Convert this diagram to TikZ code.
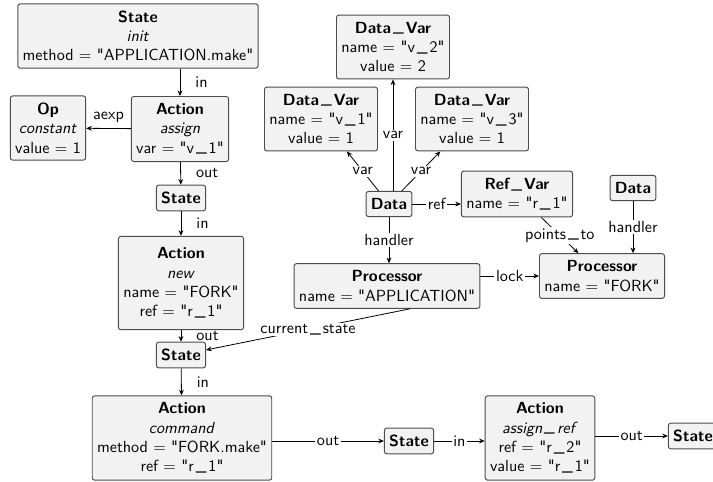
\documentclass[tikz,border=0pt]{standalone}
\usepackage{amsmath}
\usepackage{fontspec}
\setsansfont{lmsans10-regular.otf}[BoldFont=lmsans10-bold.otf,
  ItalicFont=lmsans10-oblique.otf, BoldItalicFont=lmsans10-boldoblique.otf,
  Ligatures=TeXOff]
\usepackage{tikz}
\usetikzlibrary{calc, arrows.meta}
\newcommand{\usc}{\kern0.12em\raisebox{0.18ex}{\mdseries\_}\kern0.12em}

\begin{document}
\begin{tikzpicture}
        [
          x=0.621pt, y=-0.621pt,
          font=\sffamily,
          box/.style={draw=black!70, fill=black!5, rounded corners=1.5pt,
                      line width=0.6pt, align=center, inner xsep=3pt, inner ysep=4.3pt},
          link/.style={-{Stealth[length=3.5pt,width=3pt]}, line width=0.5pt},
          side/.style={right=6pt},
          lbl/.style={fill=white, inner sep=1pt}
        ]
        \useasboundingbox (0,0) rectangle (713,481);
        % states and actions
        \node [box] (init) at (138,36) {\textbf{State}\\\textit{init}\\method = "APPLICATION.make"};
        \node [box] (assign) at (180,129) {\textbf{Action}\\\textit{assign}\\var = "v\usc1"};
        \node [box] (op) at (48,128) {\textbf{Op}\\\textit{constant}\\value = 1};
        \node [box] (st1) at (181,198) {\textbf{State}};
        \node [box, minimum height=58pt] (new) at (181,283) {\textbf{Action}\\\textit{new}\\name = "FORK"\\ref = "r\usc1"};
        \node [box] (st2) at (181,355) {\textbf{State}};
        \node [box] (cmd) at (182,438) {\textbf{Action}\\\textit{command}\\method = "FORK.make"\\ref = "r\usc1"};
        \node [box] (st3) at (409,441) {\textbf{State}};
        \node [box] (aref) at (540,438) {\textbf{Action}\\\textit{assign\usc ref}\\ref = "r\usc2"\\value = "r\usc1"};
        \node [box] (st4) at (693,436) {\textbf{State}};
        % data
        \node [box] (v2) at (393,47) {\textbf{Data\usc Var}\\name = "v\usc2"\\value = 2};
        \node [box] (v1) at (321,119) {\textbf{Data\usc Var}\\name = "v\usc1"\\value = 1};
        \node [box] (v3) at (472,119) {\textbf{Data\usc Var}\\name = "v\usc3"\\value = 1};
        \node [box] (d1) at (389,204) {\textbf{Data}};
        \node [box] (ref) at (517,194) {\textbf{Ref\usc Var}\\name = "r\usc1"};
        \node [box] (d2) at (633,188) {\textbf{Data}};
        \node [box] (proc1) at (387,286) {\textbf{Processor}\\name = "APPLICATION"};
        \node [box] (proc2) at (602,276) {\textbf{Processor}\\name = "FORK"};
        % flow edges
        \draw [link] (init.south -| assign) -- node [side] {in} (assign);
        \draw [link] (assign) -- node [above] {aexp} (op);
        \draw [link] (assign) -- node [side] {out} (st1);
        \draw [link] (st1) -- node [side] {in} (new);
        \draw [link] (new) -- node [side] {out} (st2);
        \draw [link] (st2) -- node [side] {in} (cmd);
        \draw [link] (cmd.east |- st3) -- node [lbl] {out} (st3);
        \draw [link] (st3) -- node [lbl] {in} (st3 -| aref.west);
        \draw [link] (aref.east |- st4) -- node [lbl] {out} (st4);
        % data edges
        \draw [link] (d1) -- node [lbl] {var} (v1);
        \draw [link] (d1.north -| v2) -- node [lbl] {var} (v2);
        \draw [link] (d1) -- node [lbl] {var} (v3);
        \draw [link] (d1) -- node [lbl] {ref} (d1 -| ref.west);
        \draw [link] (d1) -- node [lbl] {handler} (d1 |- proc1.north);
        \draw [link] (ref) -- node [lbl] {points\usc to} (proc2);
        \draw [link] (d2) -- node [lbl] {handler} (d2 |- proc2.north);
        \draw [link] (proc1.east |- proc2) -- node [lbl] {lock} (proc2);
        \draw [link] (proc1.-45) -- node [lbl] {current\usc state} (st2);
\end{tikzpicture}
\end{document}
